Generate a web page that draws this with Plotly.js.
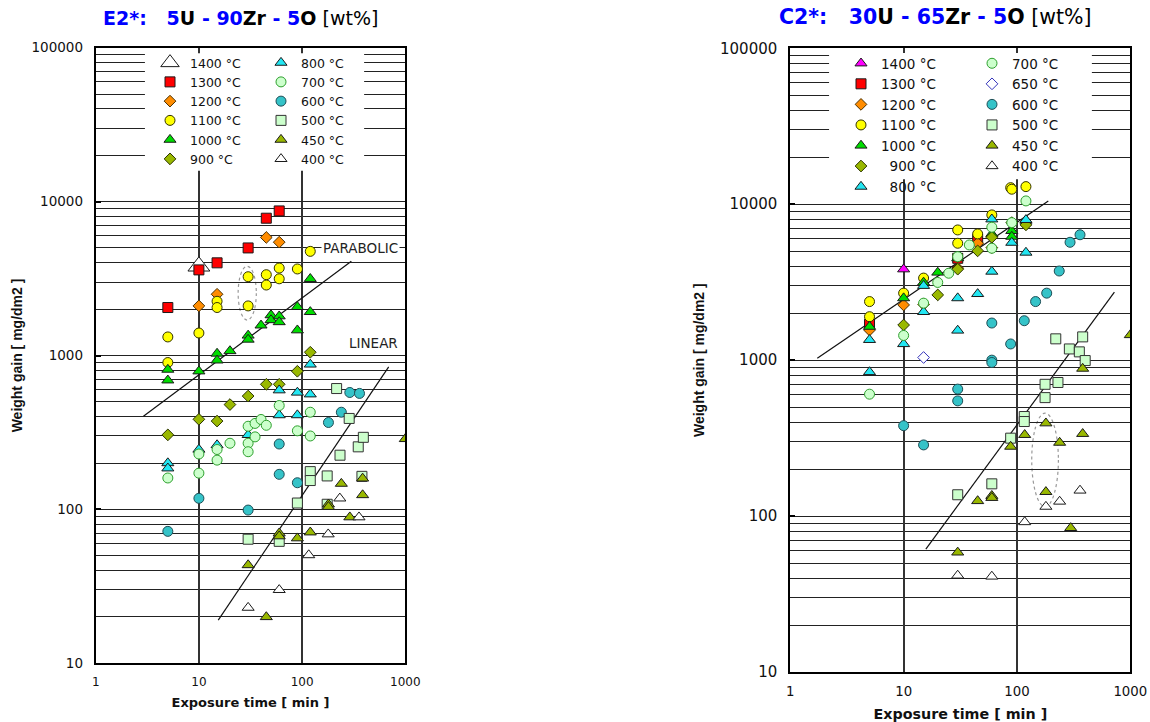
<!DOCTYPE html>
<html><head><meta charset="utf-8">
<script src="https://cdn.plot.ly/plotly-3.0.1.min.js"></script>
<style>html,body{margin:0;padding:0;background:#fff;}#chart{width:1150px;height:722px;}</style>
</head><body><div id="chart"></div>
<script>
// ===== Panel E2*: 5U - 90Zr - 5O [wt%] — exposure time [min], weight gain [mg/dm2] =====
const e2T1400 = [10];
const e2W1400 = [3800];
const e2T1300 = [5, 10, 15, 30, 45, 60];
const e2W1300 = [2050, 3600, 4000, 5000, 7800, 8700];
const e2T1200 = [10, 15, 45, 60];
const e2W1200 = [2100, 2500, 5850, 5450];
const e2T1100 = [5, 5, 10, 15, 15, 30, 30, 45, 45, 60, 60, 90, 120];
const e2W1100 = [1320, 900, 1400, 2250, 2050, 3250, 2100, 3350, 2870, 3700, 3150, 3650, 4750];
const e2T1000 = [5, 5, 10, 15, 15, 20, 30, 30, 40, 50, 50, 60, 60, 90, 90, 120, 120];
const e2W1000 = [810, 690, 790, 1030, 930, 1070, 1350, 1270, 1570, 1830, 1700, 1800, 1650, 2070, 1460, 3150, 1920];
const e2T900 = [5, 10, 15, 20, 30, 45, 60, 90, 120];
const e2W900 = [305, 385, 375, 480, 545, 650, 650, 790, 1050];
const e2T800 = [5, 5, 10, 15, 30, 60, 60, 90, 90, 120, 120];
const e2W800 = [200, 185, 245, 262, 305, 595, 410, 575, 410, 560, 875];
const e2T700 = [5, 10, 10, 15, 15, 20, 30, 30, 30, 35, 35, 40, 45, 60, 90, 120, 120];
const e2W700 = [160, 229, 172, 245, 209, 269, 347, 269, 237, 362, 296, 384, 352, 473, 324, 428, 300];
const e2T600 = [5, 10, 30, 60, 60, 90, 180, 240, 290, 360];
const e2W600 = [72, 118, 99, 266, 169, 149, 367, 428, 575, 567];
const e2T500 = [30, 60, 90, 120, 120, 175, 175, 216, 233, 286, 350, 392, 380];
const e2W500 = [64, 62, 110, 176, 154, 165, 108, 610, 225, 390, 255, 294, 164];
const e2T450 = [30, 45, 60, 60, 90, 120, 180, 180, 240, 290, 386, 386, 1000];
const e2W450 = [43.5, 20, 70, 67, 65, 71, 108, 104, 147, 89, 159, 124, 287];
const e2T400 = [30, 60, 116, 179, 232, 356];
const e2W400 = [23, 30, 50.5, 69, 118, 89];
// fitted rate lines
const e2ParabolicT = [2.9, 300];
const e2ParabolicW = [403, 4100];
const e2LinearT = [15.4, 690];
const e2LinearW = [19.1, 843];
// dotted ellipse (time range, gain range)
const e2EllipseT = [24, 36];
const e2EllipseW = [1700, 3800];

// ===== Panel C2*: 30U - 65Zr - 5O [wt%] =====
const c2T1400 = [10];
const c2W1400 = [3830];
const c2T1300 = [5, 30, 45];
const c2W1300 = [1700, 4500, 5950];
const c2T1200 = [5, 10, 15, 30, 45, 60];
const c2W1200 = [1560, 2260, 2280, 3890, 5620, 5270];
const c2T1100 = [5, 5, 10, 15, 30, 30, 45, 60, 88, 90, 120];
const c2W1100 = [2375, 1900, 2690, 3360, 6840, 5620, 6450, 8540, 12770, 12480, 12970];
const c2T1000 = [5, 10, 15, 20, 30, 60, 90, 90, 120];
const c2W1000 = [1640, 2500, 3150, 3650, 4510, 6450, 6750, 6200, 7850];
const c2T900 = [10, 20, 30, 45, 60, 90, 120];
const c2W900 = [1680, 2620, 3830, 5020, 6140, 7620, 7370];
const c2T800 = [5, 5, 10, 15, 15, 30, 30, 45, 60, 60, 90, 120, 120];
const c2W800 = [1350, 840, 1270, 3000, 2040, 2500, 1550, 2660, 8010, 3700, 5670, 7940, 4900];
const c2T700 = [5, 10, 15, 20, 25, 30, 38, 60, 60, 90, 120];
const c2W700 = [605, 1440, 2320, 3150, 3610, 4610, 5480, 7120, 5220, 7620, 10500];
const c2T650 = [15];
const c2W650 = [1040];
const c2T600 = [10, 15, 30, 30, 60, 60, 60, 88, 116, 146, 183, 236, 294, 360];
const c2W600 = [380, 286, 652, 548, 1730, 1000, 966, 1270, 1790, 2375, 2690, 3730, 5700, 6370];
const c2T500 = [30, 60, 88, 116, 116, 177, 177, 220, 230, 290, 355, 380, 400];
const c2W500 = [137, 161, 316, 435, 404, 700, 575, 1370, 719, 1180, 1130, 1410, 994];
const c2T450 = [30, 45, 60, 60, 88, 117, 180, 180, 238, 298, 380, 380, 1000];
const c2W450 = [58.5, 125, 135, 131, 279, 332, 394, 143, 296, 84, 883, 337, 1450];
const c2T400 = [30, 60, 117, 180, 238, 360];
const c2W400 = [41.6, 41, 91.6, 115, 124, 146];
const c2ParabolicT = [1.73, 189];
const c2ParabolicW = [1030, 10500];
const c2LinearT = [15.7, 724];
const c2LinearW = [61.4, 2730];
const c2EllipseT = [135, 232];
const c2EllipseW = [115, 457];

// axis tick values
const xTickVals = [1, 10, 100, 1000];
const yTickVals = [10, 100, 1000, 10000, 100000];

// ===== styles =====
const EDGE = '#1a1a1a';
const STYLE = {
  '1400': {symbol: 'triangle-up', fill: '#ffffff', edge: EDGE, size: 10.5},
  '1300': {symbol: 'square', fill: '#ff0000', edge: EDGE, size: 10},
  '1200': {symbol: 'diamond', fill: '#ff8c00', edge: '#4a3000', size: 9},
  '1100': {symbol: 'circle', fill: '#ffff00', edge: '#333300', size: 10},
  '1000': {symbol: 'triangle-up', fill: '#00dd00', edge: EDGE, size: 10.5},
  '900':  {symbol: 'diamond', fill: '#99b800', edge: '#2a3300', size: 9},
  '800':  {symbol: 'triangle-up', fill: '#22e6f2', edge: EDGE, size: 10.5},
  '700':  {symbol: 'circle', fill: '#ccffcc', edge: '#2ea02e', size: 10},
  '650':  {symbol: 'diamond', fill: '#ffffff', edge: '#3333bb', size: 9},
  '600':  {symbol: 'circle', fill: '#35c3c8', edge: '#1e4d55', size: 10},
  '500':  {symbol: 'square', fill: '#ccffcc', edge: '#333333', size: 10},
  '450':  {symbol: 'triangle-up', fill: '#99b800', edge: EDGE, size: 10.5},
  '400':  {symbol: 'triangle-up', fill: '#ffffff', edge: EDGE, size: 10.5}
};

function series(t, w, temp, label, ax, legendId, over) {
  const s = Object.assign({}, STYLE[temp], over || {});
  return {
    type: 'scatter', mode: 'markers', x: t, y: w,
    xaxis: ax[0], yaxis: ax[1], name: label, legend: legendId,
    marker: {symbol: s.symbol, size: s.size, color: s.fill, line: {color: s.edge, width: 1}},
    hovertemplate: label + '<br>%{x} min, %{y} mg/dm2<extra></extra>'
  };
}
function fitLine(t, w, ax) {
  return {type: 'scatter', mode: 'lines', x: t, y: w, xaxis: ax[0], yaxis: ax[1],
    line: {color: '#111', width: 1.2}, showlegend: false, hoverinfo: 'skip'};
}

const A1 = ['x', 'y'], A2 = ['x2', 'y2'];
const FS = '\u2007';
const traces = [
  fitLine(e2ParabolicT, e2ParabolicW, A1),
  fitLine(e2LinearT, e2LinearW, A1),
  fitLine(c2ParabolicT, c2ParabolicW, A2),
  fitLine(c2LinearT, c2LinearW, A2),
  series(e2T1400, e2W1400, '1400', '1400 °C', A1, 'legend', {size: 19}),
  series(e2T1300, e2W1300, '1300', '1300 °C', A1, 'legend'),
  series(e2T1200, e2W1200, '1200', '1200 °C', A1, 'legend'),
  series(e2T1100, e2W1100, '1100', '1100 °C', A1, 'legend'),
  series(e2T1000, e2W1000, '1000', '1000 °C', A1, 'legend'),
  series(e2T900, e2W900, '900', '900 °C', A1, 'legend'),
  series(e2T800, e2W800, '800', '800 °C', A1, 'legend2'),
  series(e2T700, e2W700, '700', '700 °C', A1, 'legend2'),
  series(e2T600, e2W600, '600', '600 °C', A1, 'legend2'),
  series(e2T500, e2W500, '500', '500 °C', A1, 'legend2'),
  series(e2T450, e2W450, '450', '450 °C', A1, 'legend2'),
  series(e2T400, e2W400, '400', '400 °C', A1, 'legend2'),
  series(c2T1400, c2W1400, '1400', '1400 °C', A2, 'legend3', {fill: '#ff00ff'}),
  series(c2T1300, c2W1300, '1300', '1300 °C', A2, 'legend3'),
  series(c2T1200, c2W1200, '1200', '1200 °C', A2, 'legend3'),
  series(c2T1100, c2W1100, '1100', '1100 °C', A2, 'legend3'),
  series(c2T1000, c2W1000, '1000', '1000 °C', A2, 'legend3'),
  series(c2T900, c2W900, '900', FS + '900 °C', A2, 'legend3'),
  series(c2T800, c2W800, '800', FS + '800 °C', A2, 'legend3'),
  series(c2T700, c2W700, '700', '700 °C', A2, 'legend4'),
  series(c2T650, c2W650, '650', '650 °C', A2, 'legend4'),
  series(c2T600, c2W600, '600', '600 °C', A2, 'legend4'),
  series(c2T500, c2W500, '500', '500 °C', A2, 'legend4'),
  series(c2T450, c2W450, '450', '450 °C', A2, 'legend4'),
  series(c2T400, c2W400, '400', '400 °C', A2, 'legend4')
];

const W = 1150, H = 722;
const TXT = '#111';
function xAxis(domain, fontSize, titleSize, anchor, standoff) {
  return {
    type: 'log', domain: domain, range: [0, 3], anchor: anchor,
    tickvals: xTickVals, ticktext: xTickVals.map(String), ticks: '',
    tickfont: {family: 'DejaVu Sans', size: fontSize, color: TXT},
    showgrid: true, gridcolor: '#333', gridwidth: 1.5,
    showline: true, mirror: true, linecolor: '#000', linewidth: 2,
    zeroline: false, automargin: false, ticklabelstandoff: 6,
    title: {text: '<b>Exposure time [ min ]</b>', font: {family: 'DejaVu Sans', size: titleSize, color: TXT}, standoff: standoff}
  };
}
function yAxis(domain, fontSize, anchor, standoff) {
  return {
    type: 'log', domain: domain, range: [1, 5], anchor: anchor,
    tickvals: yTickVals, ticktext: yTickVals.map(String),
    ticks: 'inside', ticklen: 5, tickwidth: 1.5, tickcolor: '#000',
    tickfont: {family: 'DejaVu Sans', size: fontSize, color: TXT},
    showgrid: true, gridcolor: '#222', gridwidth: 1,
    minor: {dtick: 'D1', showgrid: true, gridcolor: '#222', gridwidth: 1, ticks: ''},
    showline: true, mirror: true, linecolor: '#000', linewidth: 2,
    zeroline: false, automargin: false, ticklabelstandoff: 8,
    title: {text: '<b>Weight gain [ mg/dm2 ]</b>', font: {family: 'Liberation Sans, Arial', size: 14, color: TXT}, standoff: standoff}
  };
}
function legendAt(px, py, size) {
  return {x: px / W, y: 1 - py / H, xanchor: 'left', yanchor: 'top',
    bgcolor: 'rgba(0,0,0,0)', borderwidth: 0, itemwidth: 30, tracegroupgap: 0,
    font: {family: 'DejaVu Sans', size: size, color: TXT}};
}
const BLUE = '#0000ff';
function titleText(a, u, zr, o) {
  return '<b><span style="color:' + BLUE + '">' + a + '</span>\u00a0\u00a0\u00a0' +
    '<span style="color:' + BLUE + '">' + u + '</span>U' +
    '<span style="color:' + BLUE + '"> - ' + zr + '</span>Zr' +
    '<span style="color:' + BLUE + '"> - ' + o + '</span>O</b> [wt%]';
}

const layout = {
  width: W, height: H, margin: {l: 0, r: 0, t: 0, b: 0},
  paper_bgcolor: '#fff', plot_bgcolor: '#fff', showlegend: true,
  xaxis: xAxis([95.7 / W, 405.3 / W], 12, 13, 'y', 10),
  yaxis: yAxis([1 - 663.3 / H, 1 - 47.7 / H], 13.5, 'x', 6),
  xaxis2: xAxis([790.3 / W, 1130.3 / W], 13.3, 14.3, 'y2', 11),
  yaxis2: yAxis([1 - 672 / H, 1 - 48.3 / H], 15, 'x2', 12),
  legend: legendAt(150, 48, 12.5),
  legend2: legendAt(261, 48, 12.5),
  legend3: legendAt(841, 48, 13.5),
  legend4: legendAt(972, 48, 13.5),
  shapes: [
    {type: 'rect', xref: 'x domain', yref: 'y domain', x0: 0.159, x1: 0.867, y0: 0.80, y1: 0.991,
      fillcolor: '#fff', line: {width: 0}, layer: 'above'},
    {type: 'rect', xref: 'x2 domain', yref: 'y2 domain', x0: 0.114, x1: 0.887, y0: 0.79, y1: 0.9925,
      fillcolor: '#fff', line: {width: 0}, layer: 'above'},
    {type: 'circle', xref: 'x', yref: 'y', x0: e2EllipseT[0], x1: e2EllipseT[1], y0: e2EllipseW[0], y1: e2EllipseW[1],
      line: {color: '#999', width: 1.2, dash: 'dot'}, layer: 'below'},
    {type: 'circle', xref: 'x2', yref: 'y2', x0: c2EllipseT[0], x1: c2EllipseT[1], y0: c2EllipseW[0], y1: c2EllipseW[1],
      line: {color: '#999', width: 1.2, dash: 'dot'}, layer: 'below'}
  ],
  annotations: [
    {text: titleText('E2*:', '5', '90', '5'), xref: 'paper', yref: 'paper', x: 240 / W, y: 1 - 18 / H,
      xanchor: 'center', yanchor: 'middle', showarrow: false, font: {family: 'DejaVu Sans', size: 19, color: '#000'}},
    {text: titleText('C2*:', '30', '65', '5'), xref: 'paper', yref: 'paper', x: 935 / W, y: 1 - 17 / H,
      xanchor: 'center', yanchor: 'middle', showarrow: false, font: {family: 'DejaVu Sans', size: 20.5, color: '#000'}},
    {text: 'PARABOLIC', xref: 'x domain', yref: 'y domain', x: 0.983, y: 0.674, xanchor: 'right', yanchor: 'middle',
      showarrow: false, bgcolor: '#fff', font: {family: 'DejaVu Sans', size: 13.5, color: '#222'}},
    {text: 'LINEAR', xref: 'x domain', yref: 'y domain', x: 0.983, y: 0.52, xanchor: 'right', yanchor: 'middle',
      showarrow: false, bgcolor: '#fff', font: {family: 'DejaVu Sans', size: 13.5, color: '#222'}}
  ]
};

Plotly.newPlot('chart', traces, layout, {displayModeBar: false, responsive: false});
</script>
</body></html>
